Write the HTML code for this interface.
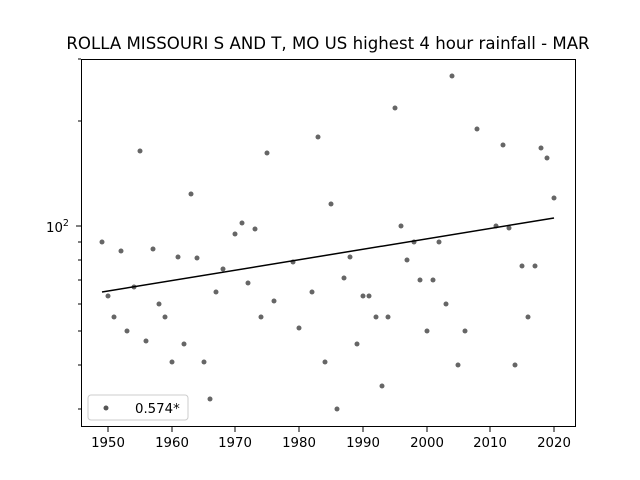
<!DOCTYPE html>
<html><head><meta charset="utf-8"><style>body{margin:0;background:#fff}svg{display:block}</style></head><body>
<svg width="640" height="480" xmlns="http://www.w3.org/2000/svg" font-family="DejaVu Sans, Liberation Sans, sans-serif">
<rect width="640" height="480" fill="#fff"/>
<text x="328" y="49" font-size="16.6" text-anchor="middle">ROLLA MISSOURI S AND T, MO US highest 4 hour rainfall - MAR</text>
<g stroke="#000" stroke-width="1">
<line x1="81" y1="226" x2="76" y2="226"/>
<line x1="81" y1="59" x2="78" y2="59"/><line x1="81" y1="121" x2="78" y2="121"/>
<line x1="81" y1="242" x2="78" y2="242"/><line x1="81" y1="260" x2="78" y2="260"/>
<line x1="81" y1="280" x2="78" y2="280"/><line x1="81" y1="304" x2="78" y2="304"/>
<line x1="81" y1="331" x2="78" y2="331"/><line x1="81" y1="365" x2="78" y2="365"/>
<line x1="81" y1="409" x2="78" y2="409"/>
<line x1="108" y1="427" x2="108" y2="432"/><line x1="172" y1="427" x2="172" y2="432"/>
<line x1="235" y1="427" x2="235" y2="432"/><line x1="299" y1="427" x2="299" y2="432"/>
<line x1="363" y1="427" x2="363" y2="432"/><line x1="427" y1="427" x2="427" y2="432"/>
<line x1="490" y1="427" x2="490" y2="432"/><line x1="554" y1="427" x2="554" y2="432"/>
</g>
<g font-size="13.3" text-anchor="middle">
<text x="108" y="447">1950</text><text x="172" y="447">1960</text><text x="235" y="447">1970</text><text x="299" y="447">1980</text><text x="363" y="447">1990</text><text x="427" y="447">2000</text><text x="490" y="447">2010</text><text x="554" y="447">2020</text>
</g>
<text x="46" y="232" font-size="13.3">10<tspan font-size="9.5" dy="-6">2</tspan></text>
<g fill="#555" fill-opacity="0.9">
<circle cx="102" cy="242" r="2.5"/><circle cx="108" cy="296" r="2.5"/><circle cx="114" cy="317" r="2.5"/><circle cx="121" cy="251" r="2.5"/><circle cx="127" cy="331" r="2.5"/><circle cx="134" cy="287" r="2.5"/><circle cx="140" cy="151" r="2.5"/><circle cx="146" cy="341" r="2.5"/><circle cx="153" cy="249" r="2.5"/><circle cx="159" cy="304" r="2.5"/><circle cx="165" cy="317" r="2.5"/><circle cx="172" cy="362" r="2.5"/><circle cx="178" cy="257" r="2.5"/><circle cx="184" cy="344" r="2.5"/><circle cx="191" cy="194" r="2.5"/><circle cx="197" cy="258" r="2.5"/><circle cx="204" cy="362" r="2.5"/><circle cx="210" cy="399" r="2.5"/><circle cx="216" cy="292" r="2.5"/><circle cx="223" cy="269" r="2.5"/><circle cx="235" cy="234" r="2.5"/><circle cx="242" cy="223" r="2.5"/><circle cx="248" cy="283" r="2.5"/><circle cx="255" cy="229" r="2.5"/><circle cx="261" cy="317" r="2.5"/><circle cx="267" cy="153" r="2.5"/><circle cx="274" cy="301" r="2.5"/><circle cx="293" cy="262" r="2.5"/><circle cx="299" cy="328" r="2.5"/><circle cx="312" cy="292" r="2.5"/><circle cx="318" cy="137" r="2.5"/><circle cx="325" cy="362" r="2.5"/><circle cx="331" cy="204" r="2.5"/><circle cx="337" cy="409" r="2.5"/><circle cx="344" cy="278" r="2.5"/><circle cx="350" cy="257" r="2.5"/><circle cx="357" cy="344" r="2.5"/><circle cx="363" cy="296" r="2.5"/><circle cx="369" cy="296" r="2.5"/><circle cx="376" cy="317" r="2.5"/><circle cx="382" cy="386" r="2.5"/><circle cx="388" cy="317" r="2.5"/><circle cx="395" cy="108" r="2.5"/><circle cx="401" cy="226" r="2.5"/><circle cx="407" cy="260" r="2.5"/><circle cx="414" cy="242" r="2.5"/><circle cx="420" cy="280" r="2.5"/><circle cx="427" cy="331" r="2.5"/><circle cx="433" cy="280" r="2.5"/><circle cx="439" cy="242" r="2.5"/><circle cx="446" cy="304" r="2.5"/><circle cx="452" cy="76" r="2.5"/><circle cx="458" cy="365" r="2.5"/><circle cx="465" cy="331" r="2.5"/><circle cx="477" cy="129" r="2.5"/><circle cx="496" cy="226" r="2.5"/><circle cx="503" cy="145" r="2.5"/><circle cx="509" cy="228" r="2.5"/><circle cx="515" cy="365" r="2.5"/><circle cx="522" cy="266" r="2.5"/><circle cx="528" cy="317" r="2.5"/><circle cx="535" cy="266" r="2.5"/><circle cx="541" cy="148" r="2.5"/><circle cx="547" cy="158" r="2.5"/><circle cx="554" cy="198" r="2.5"/>
</g>
<line x1="102" y1="292" x2="554" y2="218" stroke="#000" stroke-width="1.5"/>
<rect x="81.5" y="59.5" width="494" height="367" fill="none" stroke="#000" stroke-width="1"/>
<rect x="88" y="395" width="100" height="25" rx="3" fill="#fff" stroke="#ccc"/>
<circle cx="106" cy="408" r="2.5" fill="#555"/>
<text x="135" y="413" font-size="13.3">0.574*</text>
</svg>
</body></html>
